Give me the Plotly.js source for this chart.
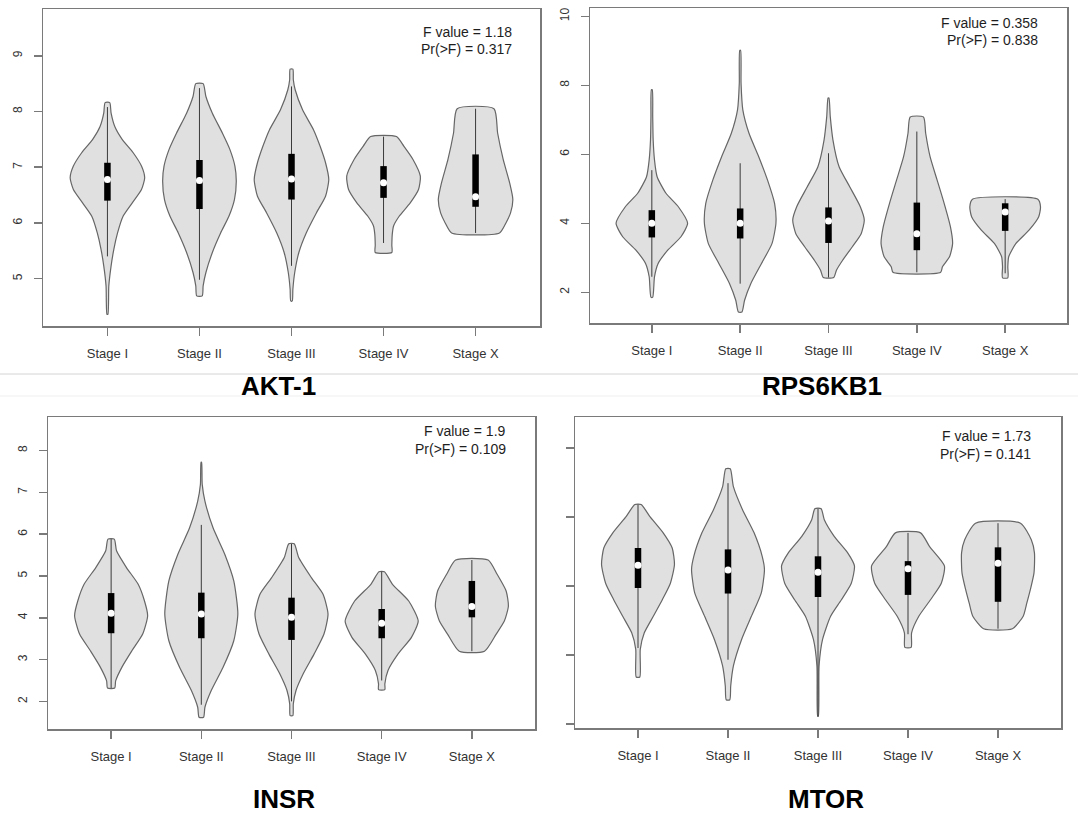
<!DOCTYPE html>
<html>
<head>
<meta charset="utf-8">
<script src="https://cdn.plot.ly/plotly-3.0.1.min.js"></script>
<style>html,body{margin:0;padding:0;background:#fff;}#chart{width:1078px;height:816px;}</style>
</head>
<body>
<div id="chart"></div>
<script>
const stages = ['Stage I','Stage II','Stage III','Stage IV','Stage X'];
const stagePos = [1,2,3,4,5];

// ---------- AKT-1 ----------
const aktY = [
  [8.16,7.97,7.73,7.50,7.26,7.02,6.81,6.60,6.36,6.12,5.82,5.53,5.23,4.87,4.36],
  [8.50,8.27,7.97,7.61,7.32,7.02,6.75,6.42,6.12,5.82,5.47,5.11,4.87,4.69],
  [8.76,8.57,8.39,8.03,7.67,7.38,7.08,6.78,6.48,6.18,5.82,5.47,5.11,4.81,4.60],
  [7.55,7.38,7.14,6.84,6.60,6.36,6.12,5.95,5.80,5.60,5.47],
  [8.05,7.61,7.14,6.72,6.42,6.18,6.00,5.82]
];
const aktW = [
  [0.025,0.04,0.08,0.16,0.28,0.37,0.405,0.37,0.27,0.17,0.11,0.07,0.04,0.015,0.005],
  [0.04,0.07,0.14,0.25,0.33,0.385,0.40,0.38,0.32,0.23,0.14,0.07,0.04,0.03],
  [0.015,0.02,0.04,0.12,0.24,0.31,0.37,0.405,0.37,0.27,0.16,0.08,0.035,0.015,0.008],
  [0.14,0.22,0.32,0.40,0.38,0.29,0.17,0.11,0.095,0.09,0.09],
  [0.20,0.24,0.30,0.37,0.405,0.38,0.33,0.26]
];
const aktLo  = [5.40,4.98,5.23,5.64,5.82];
const aktQ1  = [6.40,6.25,6.42,6.45,6.29];
const aktMed = [6.78,6.76,6.79,6.72,6.47];
const aktQ3  = [7.08,7.13,7.24,7.02,7.23];
const aktHi  = [8.08,8.42,8.45,7.55,8.05];

// ---------- RPS6KB1 ----------
const rpsY = [
  [7.87,7.09,6.42,5.84,5.35,4.87,4.48,4.00,3.61,3.22,2.83,2.45,1.86],
  [9.01,8.06,7.29,6.61,5.93,5.25,4.57,4.00,3.41,2.83,2.25,1.77,1.43],
  [7.63,7.09,6.42,5.64,5.06,4.48,4.09,3.70,3.32,2.93,2.64,2.43],
  [7.08,6.61,5.93,5.25,4.57,3.90,3.41,3.03,2.74,2.58],
  [4.70,4.48,4.19,3.80,3.41,3.03,2.74,2.42]
];
const rpsW = [
  [0.005,0.01,0.015,0.03,0.06,0.16,0.30,0.405,0.33,0.18,0.07,0.03,0.01],
  [0.005,0.01,0.03,0.10,0.21,0.31,0.39,0.405,0.36,0.24,0.12,0.05,0.02],
  [0.005,0.02,0.05,0.12,0.24,0.36,0.405,0.37,0.27,0.16,0.09,0.06],
  [0.075,0.10,0.15,0.23,0.31,0.38,0.405,0.37,0.29,0.27],
  [0.37,0.40,0.38,0.27,0.12,0.04,0.03,0.03]
];
const rpsLo  = [2.45,2.25,2.43,2.58,2.55];
const rpsQ1  = [3.59,3.56,3.43,3.22,3.78];
const rpsMed = [4.00,4.00,4.07,3.70,4.33];
const rpsQ3  = [4.38,4.43,4.46,4.60,4.58];
const rpsHi  = [5.54,5.74,6.03,6.66,4.70];

// ---------- INSR ----------
const insrY = [
  [5.88,5.60,5.20,4.80,4.40,4.05,3.61,3.21,2.82,2.49,2.32],
  [7.72,7.19,6.79,6.15,5.52,4.88,4.09,3.45,2.81,2.26,1.86,1.62],
  [5.77,5.44,4.96,4.56,4.09,3.61,3.13,2.66,2.26,1.94,1.66],
  [5.10,4.80,4.40,3.92,3.53,3.13,2.74,2.42,2.28],
  [5.38,5.04,4.64,4.28,3.92,3.61,3.20]
];
const insrW = [
  [0.035,0.06,0.17,0.30,0.37,0.405,0.35,0.23,0.12,0.05,0.04],
  [0.003,0.01,0.04,0.13,0.26,0.36,0.405,0.36,0.24,0.11,0.04,0.025],
  [0.03,0.08,0.22,0.35,0.405,0.36,0.25,0.13,0.05,0.02,0.015],
  [0.03,0.12,0.30,0.405,0.33,0.18,0.07,0.035,0.035],
  [0.18,0.28,0.38,0.405,0.36,0.27,0.14]
];
const insrLo  = [2.32,1.92,2.00,2.50,3.20];
const insrQ1  = [3.63,3.51,3.47,3.51,4.01];
const insrMed = [4.11,4.09,4.01,3.87,4.27];
const insrQ3  = [4.59,4.60,4.48,4.21,4.88];
const insrHi  = [5.88,6.22,5.77,5.10,5.38];

// ---------- MTOR ----------
const mtorY = [
  [4.18,4.01,3.77,3.55,3.31,3.04,2.80,2.56,2.32,2.08,1.68],
  [4.70,4.44,4.11,3.77,3.43,3.24,2.90,2.56,2.22,1.84,1.55,1.35],
  [4.12,3.96,3.72,3.48,3.29,3.04,2.80,2.56,2.22,1.84,1.11],
  [3.77,3.57,3.29,3.04,2.80,2.56,2.32,2.11],
  [3.91,3.67,3.48,3.19,2.95,2.75,2.56,2.38]
];
const mtorW = [
  [0.035,0.13,0.28,0.38,0.405,0.36,0.27,0.17,0.07,0.025,0.02],
  [0.025,0.06,0.16,0.29,0.38,0.405,0.37,0.26,0.15,0.06,0.03,0.02],
  [0.035,0.07,0.18,0.33,0.405,0.37,0.26,0.14,0.05,0.012,0.004],
  [0.14,0.24,0.405,0.37,0.25,0.12,0.04,0.035],
  [0.25,0.37,0.405,0.40,0.36,0.32,0.28,0.16]
];
const mtorLo  = [2.10,1.93,1.11,2.30,2.38];
const mtorQ1  = [2.97,2.89,2.84,2.87,2.77];
const mtorMed = [3.30,3.23,3.20,3.25,3.33];
const mtorQ3  = [3.55,3.53,3.43,3.36,3.56];
const mtorHi  = [4.18,4.49,4.12,3.77,3.91];

const geneNames = ['AKT-1','RPS6KB1','INSR','MTOR'];
const fValues = ['1.18','0.358','1.9','1.73'];
const pValues = ['0.317','0.838','0.109','0.141'];

// ---------- build ----------
const traces = [];
function addGene(n, Y, W, lo, q1, med, q3, hi){
  const xa = 'x' + (n===1?'':n), ya = 'y' + (n===1?'':n);
  for(let i=0;i<stagePos.length;i++){
    const c = stagePos[i];
    const xs = [], ys = [];
    for(let k=0;k<Y[i].length;k++){ xs.push(c - W[i][k]); ys.push(Y[i][k]); }
    for(let k=Y[i].length-1;k>=0;k--){ xs.push(c + W[i][k]); ys.push(Y[i][k]); }
    xs.push(xs[0]); ys.push(ys[0]);
    traces.push({type:'scatter', mode:'lines', x:xs, y:ys, xaxis:xa, yaxis:ya,
      fill:'toself', fillcolor:'#e0e0e0',
      line:{color:'#666666', width:1.2, shape:'spline', smoothing:0.6},
      hoverinfo:'skip', showlegend:false});
    traces.push({type:'scatter', mode:'lines', x:[c,c], y:[lo[i],hi[i]], xaxis:xa, yaxis:ya,
      line:{color:'#3a3a3a', width:1}, hoverinfo:'skip', showlegend:false});
    traces.push({type:'scatter', mode:'lines', x:[c,c], y:[q1[i],q3[i]], xaxis:xa, yaxis:ya,
      line:{color:'#000000', width:6.5}, hoverinfo:'skip', showlegend:false});
    traces.push({type:'scatter', mode:'markers', x:[c], y:[med[i]], xaxis:xa, yaxis:ya,
      marker:{color:'#ffffff', size:7, line:{width:0}}, hoverinfo:'skip', showlegend:false});
  }
}
addGene(1, aktY, aktW, aktLo, aktQ1, aktMed, aktQ3, aktHi);
addGene(2, rpsY, rpsW, rpsLo, rpsQ1, rpsMed, rpsQ3, rpsHi);
addGene(3, insrY, insrW, insrLo, insrQ1, insrMed, insrQ3, insrHi);
addGene(4, mtorY, mtorW, mtorLo, mtorQ1, mtorMed, mtorQ3, mtorHi);

const W0 = 1078, H0 = 816;
const FONT = 'Liberation Sans, Arial, sans-serif';
// panel boxes in pixels: [left, right, top, bottom]
const boxes = [[43,540,9,326],[590,1067,8,323],[48,535,417,729],[575,1061,417,728]];
const yRanges = [[4.15,9.84],[1.11,10.24],[1.34,8.80],[0.94,5.45]];
const yTicks = [[5,6,7,8,9],[2,4,6,8,10],[2,3,4,5,6,7,8],[1,2,3,4,5]];
const showYLabels = [true,true,true,false];

const layout = {
  width:W0, height:H0, margin:{l:0,r:0,t:0,b:0},
  paper_bgcolor:'#ffffff', plot_bgcolor:'#ffffff',
  showlegend:false, font:{family:FONT, color:'#333333'},
  annotations:[], shapes:[]
};
for(let p=0;p<4;p++){
  const b = boxes[p], s = (p===0?'':(p+1));
  layout['xaxis'+s] = {
    domain:[b[0]/W0, b[1]/W0], range:[0.3,5.7], anchor:'y'+s,
    tickmode:'array', tickvals:stagePos, ticktext:stages,
    showline:true, mirror:true, linecolor:'#7a7a7a', linewidth:1.5,
    ticks:'outside', ticklen:8, tickwidth:1.5, tickcolor:'#7a7a7a',
    showgrid:false, zeroline:false, ticklabelstandoff:7,
    tickfont:{family:FONT, size:13, color:'#333333'}, fixedrange:true
  };
  layout['yaxis'+s] = {
    domain:[1-b[3]/H0, 1-b[2]/H0], range:yRanges[p], anchor:'x'+s,
    tickmode:'array', tickvals:yTicks[p], showticklabels:showYLabels[p],
    tickangle:-90,
    showline:true, mirror:true, linecolor:'#7a7a7a', linewidth:1.5,
    ticks:'outside', ticklen:8, tickwidth:1.5, tickcolor:'#7a7a7a',
    showgrid:false, zeroline:false, ticklabelstandoff:7,
    tickfont:{family:FONT, size:12, color:'#333333'}, fixedrange:true
  };
}
// F value annotations: right edge x, first line y, second line y (pixels)
const statPos = [[514,32,49],[1040,23,40],[508,431,449],[1033,436,454]];
for(let p=0;p<4;p++){
  const sp = statPos[p];
  layout.annotations.push({xref:'paper', yref:'paper', x:sp[0]/W0, y:1-sp[1]/H0,
    xanchor:'right', yanchor:'middle', showarrow:false,
    text:'F value = '+fValues[p], font:{family:FONT, size:14, color:'#1e1e1e'}});
  layout.annotations.push({xref:'paper', yref:'paper', x:sp[0]/W0, y:1-sp[2]/H0,
    xanchor:'right', yanchor:'middle', showarrow:false,
    text:'Pr(>F) = '+pValues[p], font:{family:FONT, size:14, color:'#1e1e1e'}});
}
// gene titles
const titlePos = [[278,386],[822,386],[284,799],[826,799]];
for(let p=0;p<4;p++){
  layout.annotations.push({xref:'paper', yref:'paper', x:titlePos[p][0]/W0, y:1-titlePos[p][1]/H0,
    xanchor:'center', yanchor:'middle', showarrow:false,
    text:'<b>'+geneNames[p]+'</b>', font:{family:FONT, size:26, color:'#000000'}});
}
// separator lines
layout.shapes.push({type:'line', xref:'paper', yref:'paper', x0:0, x1:1, y0:1-374/H0, y1:1-374/H0,
  line:{color:'#d4d4d4', width:1}});
layout.shapes.push({type:'line', xref:'paper', yref:'paper', x0:0, x1:1, y0:1-396/H0, y1:1-396/H0,
  line:{color:'#efefef', width:1}});

Plotly.newPlot('chart', traces, layout, {staticPlot:true, displayModeBar:false});
</script>
</body>
</html>
